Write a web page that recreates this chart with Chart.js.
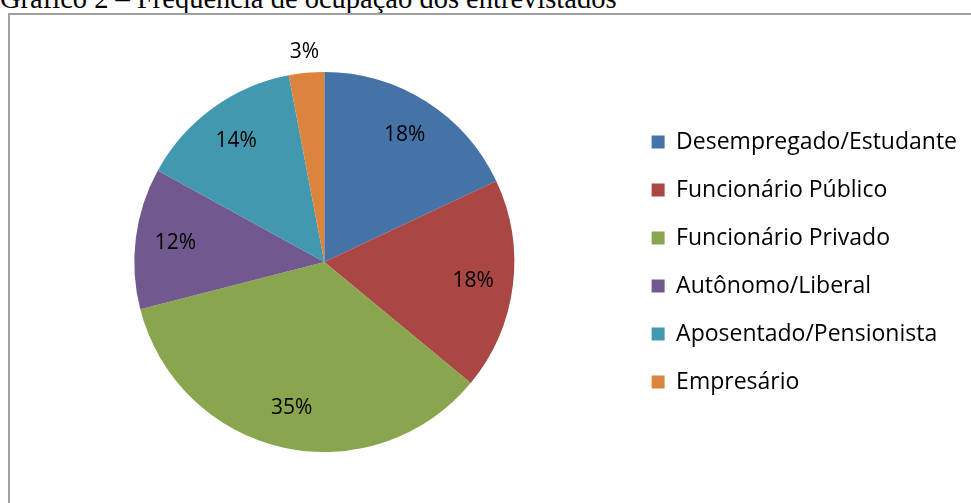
<!DOCTYPE html>
<html>
<head>
<meta charset="utf-8">
<script src="https://cdn.jsdelivr.net/npm/chart.js@4/dist/chart.umd.min.js"></script>
<style>
  html, body { margin: 0; padding: 0; background: #fff; overflow: hidden; }
  body { width: 971px; height: 503px; position: relative; }
  #titulo {
    position: absolute; left: 0; top: -15px; line-height: 28px; white-space: nowrap;
    font-family: "Liberation Serif", "Times New Roman", serif; font-size: 28.5px; color: #000;
  }
  #moldura {
    position: absolute; left: 8px; top: 13px; width: 1000px; height: 520px;
    border: 2px solid #a0a0a0; box-sizing: border-box;
  }
  #grafico { position: absolute; left: 0; top: 0; }
</style>
</head>
<body>
<div id="titulo">Gráfico 2 – Frequência de ocupação dos entrevistados</div>
<div id="moldura"></div>
<canvas id="grafico" width="971" height="503"></canvas>
<script>
// Dados do gráfico
const categorias = ['Desempregado/Estudante', 'Funcionário Público', 'Funcionário Privado',
    'Autônomo/Liberal', 'Aposentado/Pensionista', 'Empresário'];
const percentuais = [18, 18, 35, 12, 14, 3];
const rotulos = ['18%', '18%', '35%', '12%', '14%', '3%'];
const cores = ['#4572A7', '#AA4643', '#89A54E', '#71588F', '#4198AF', '#DB843D'];

const fonte = '"Open Sans", "Noto Sans", sans-serif';

// Rótulos de dados dentro das fatias (fatias pequenas ficam fora)
const rotulosPlugin = {
    id: 'rotulos',
    afterDatasetsDraw(chart) {
        const ctx = chart.ctx;
        const arcs = chart.getDatasetMeta(0).data;
        ctx.save();
        ctx.font = '21px ' + fonte;
        ctx.fillStyle = '#000';
        ctx.textAlign = 'center';
        ctx.textBaseline = 'middle';
        arcs.forEach((arc, i) => {
            const p = arc.getProps(['x', 'y', 'startAngle', 'endAngle', 'outerRadius'], true);
            const meio = (p.startAngle + p.endAngle) / 2;
            const fator = percentuais[i] < 5 ? 1.11 : 0.79;
            const r = p.outerRadius * fator;
            ctx.fillText(rotulos[i], p.x + Math.cos(meio) * r, p.y + Math.sin(meio) * r);
        });
        ctx.restore();
    }
};

new Chart(document.getElementById('grafico'), {
    type: 'pie',
    data: {
        labels: categorias,
        datasets: [{
            data: percentuais,
            backgroundColor: cores,
            borderWidth: 0
        }]
    },
    options: {
        responsive: false,
        animation: false,
        layout: { padding: { left: 22, right: 4, top: 72, bottom: 51 } },
        plugins: {
            tooltip: { enabled: false },
            legend: {
                position: 'right',
                labels: {
                    boxWidth: 13,
                    boxHeight: 13,
                    padding: 25,
                    color: '#000',
                    font: { family: fonte, size: 23 }
                }
            }
        }
    },
    plugins: [rotulosPlugin]
});
</script>
</body>
</html>
